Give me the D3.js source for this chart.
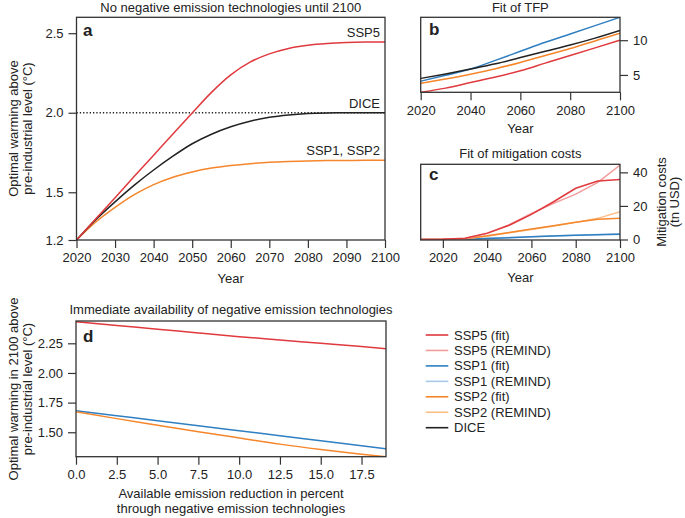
<!DOCTYPE html>
<html><head><meta charset="utf-8">
<script src="https://cdn.jsdelivr.net/npm/d3@7"></script>
<style>
body{margin:0;background:#fff;}
svg text{font-family:"Liberation Sans",Arial,sans-serif;fill:#222;}
</style></head>
<body><svg id="chart" width="685" height="518"></svg>
<script>
// ---------- DATA ----------
// Panel a: optimal warming trajectories
const yearsA = [2020,2025,2030,2035,2040,2045,2050,2055,2060,2065,2070,2075,2080,2085,2090,2095,2100];
const warmSSP5 = [1.2,1.333,1.466,1.6,1.733,1.866,1.998,2.128,2.238,2.318,2.37,2.404,2.424,2.435,2.441,2.444,2.445];
const warmDICE = [1.2,1.328,1.44,1.545,1.64,1.727,1.805,1.865,1.912,1.947,1.971,1.986,1.995,1.999,2.0,2.0,2.0];
const warmSSP12 = [1.2,1.313,1.405,1.485,1.548,1.595,1.628,1.652,1.668,1.68,1.689,1.694,1.697,1.699,1.7,1.701,1.701];
const ticksA_y = [1.2,1.5,2.0,2.5];
const ticksA_x = [2020,2030,2040,2050,2060,2070,2080,2090,2100];

// Panel b: TFP fit
const yearsB = [2020,2030,2040,2050,2060,2070,2080,2090,2100];
const tfpSSP1 = [4.1,4.95,5.85,7.1,8.4,9.7,10.9,12.1,13.3];
const tfpDICE = [4.5,5.15,5.85,6.6,7.5,8.4,9.3,10.3,11.4];
const tfpSSP2 = [3.8,4.4,5.1,5.9,6.8,7.8,8.8,9.9,11.0];
const tfpSSP5 = [2.5,3.1,3.9,4.7,5.6,6.7,7.8,8.9,10.0];
const ticksB_x = [2020,2040,2060,2080,2100];
const ticksB_y = [5,10];

// Panel c: mitigation costs (tn USD)
const yearsC = [2010,2020,2030,2040,2050,2060,2070,2080,2090,2100];
const costSSP5fit = [0,0.2,0.8,3.8,8.5,15.0,22.5,30.5,34.8,35.8];
const costSSP5rem = [0,0.2,0.6,3.5,8.8,15.5,21.5,27.0,34.0,44.4];
const costSSP1fit = [0,0.05,0.2,0.6,1.1,1.6,2.1,2.5,2.8,3.1];
const costSSP1rem = [0,0.05,0.2,0.7,1.2,1.7,2.2,2.6,3.0,3.4];
const costSSP2fit = [0,0.1,0.5,2.2,4.2,6.2,8.2,10.3,12.0,12.6];
const costSSP2rem = [0,0.1,0.4,2.0,4.0,6.0,8.0,10.2,12.6,16.5];
const ticksC_x = [2020,2040,2060,2080,2100];
const ticksC_y = [0,20,40];

// Panel d: warming in 2100 vs available negative emissions
const netPct = [0,2.5,5,7.5,10,12.5,15,17.5,19];
const negSSP5 = [2.432,2.400,2.369,2.337,2.306,2.278,2.250,2.222,2.204];
const negSSP1 = [1.682,1.640,1.598,1.555,1.513,1.471,1.429,1.387,1.361];
const negSSP2 = [1.672,1.615,1.560,1.505,1.452,1.400,1.355,1.315,1.294];
const ticksD_x = [0,2.5,5,7.5,10,12.5,15,17.5];
const ticksD_y = [1.5,1.75,2.0,2.25];

// Legend
const legendLabels = ["SSP5 (fit)","SSP5 (REMIND)","SSP1 (fit)","SSP1 (REMIND)","SSP2 (fit)","SSP2 (REMIND)","DICE"];
const legendColors = ["#e0393e","#f29c9c","#2f7fc1","#a9c9e8","#f5862b","#fbbe88","#222222"];

// ---------- DRAWING ----------
const svg = d3.select("#chart");
const C = {ssp5:"#e0393e", ssp5l:"#f29c9c", ssp1:"#2f7fc1", ssp1l:"#a9c9e8", ssp2:"#f5862b", ssp2l:"#fbbe88", dice:"#222222"};
const FS = 13;
const axisColor = "#333";

function styleAxis(g){
  g.select(".domain").remove();
  g.selectAll(".tick line").attr("stroke",axisColor).attr("stroke-width",1.2);
  g.selectAll(".tick text").attr("font-size",FS).attr("fill","#222");
}
function box(x0,x1,y0,y1){
  svg.append("rect").attr("x",x0).attr("y",y1).attr("width",x1-x0).attr("height",y0-y1)
    .attr("fill","none").attr("stroke",axisColor).attr("stroke-width",1.3);
}
function clip(id,x0,x1,y0,y1){
  svg.append("clipPath").attr("id",id).append("rect").attr("x",x0).attr("y",y1).attr("width",x1-x0).attr("height",y0-y1);
}
function drawLine(xs,ys,x,y,color,clipId,curve,w){
  svg.append("path").datum(xs.map((d,i)=>[d,ys[i]]))
    .attr("fill","none").attr("stroke",color).attr("stroke-width",w||1.5)
    .attr("clip-path","url(#"+clipId+")")
    .attr("d",d3.line().x(d=>x(d[0])).y(d=>y(d[1])).curve(curve||d3.curveLinear));
}
function text(t,x,y,opt){
  opt=opt||{};
  const el=svg.append("text").attr("x",x).attr("y",y).attr("font-size",opt.fs||FS)
    .attr("text-anchor",opt.anchor||"middle").text(t);
  if(opt.bold) el.attr("font-weight","bold");
  if(opt.rot) el.attr("transform","rotate(-90,"+x+","+y+")");
  return el;
}

// Panel a
{
  const x0=76.5,x1=385,y0=240,y1=17.3;
  const x=d3.scaleLinear().domain([2020,2100]).range([x0,x1]);
  const y=d3.scaleLinear().domain([1.2,2.6]).range([y0,y1]);
  clip("ca",x0,x1,y0,y1);
  svg.append("line").attr("x1",x0).attr("x2",x1).attr("y1",y(2.0)).attr("y2",y(2.0))
    .attr("stroke","#222").attr("stroke-width",1.3).attr("stroke-dasharray","1.3,2");
  drawLine(yearsA,warmSSP12,x,y,C.ssp2,"ca",d3.curveMonotoneX);
  drawLine(yearsA,warmDICE,x,y,C.dice,"ca",d3.curveMonotoneX);
  drawLine(yearsA,warmSSP5,x,y,C.ssp5,"ca",d3.curveMonotoneX);
  svg.append("g").attr("transform","translate(0,"+y0+")")
    .call(d3.axisBottom(x).tickValues(ticksA_x).tickFormat(d3.format("d")).tickSize(8).tickPadding(5)).call(styleAxis);
  svg.append("g").attr("transform","translate("+x0+",0)")
    .call(d3.axisLeft(y).tickValues(ticksA_y).tickFormat(d3.format(".1f")).tickSize(8).tickPadding(5)).call(styleAxis);
  box(x0,x1,y0,y1);
  text("No negative emission technologies until 2100",(x0+x1)/2,12);
  text("a",83,36,{anchor:"start",bold:true,fs:17});
  text("SSP5",380,37,{anchor:"end"});
  text("DICE",380,108,{anchor:"end"});
  text("SSP1, SSP2",380,155,{anchor:"end"});
  text("Year",(x0+x1)/2,283);
  text("Optimal warming above",17.5,128.5,{rot:true});
  text("pre-industrial level (°C)",31.5,128.5,{rot:true});
}

// Panel b
{
  const x0=420.7,x1=620,y0=92.3,y1=17.3;
  const x=d3.scaleLinear().domain([2020,2100]).range([x0,x1]);
  const y=d3.scaleLinear().domain([2.5,13.3]).range([y0,y1]);
  clip("cb",x0,x1,y0,y1);
  drawLine(yearsB,tfpSSP5,x,y,C.ssp5,"cb",d3.curveMonotoneX);
  drawLine(yearsB,tfpSSP2,x,y,C.ssp2,"cb",d3.curveMonotoneX);
  drawLine(yearsB,tfpSSP1,x,y,C.ssp1,"cb",d3.curveMonotoneX);
  drawLine(yearsB,tfpDICE,x,y,C.dice,"cb",d3.curveMonotoneX);
  svg.append("g").attr("transform","translate(0,"+y0+")")
    .call(d3.axisBottom(x).tickValues(ticksB_x).tickFormat(d3.format("d")).tickSize(8).tickPadding(5)).call(styleAxis);
  svg.append("g").attr("transform","translate("+x1+",0)")
    .call(d3.axisRight(y).tickValues(ticksB_y).tickFormat(d3.format("d")).tickSize(8).tickPadding(5)).call(styleAxis);
  box(x0,x1,y0,y1);
  text("Fit of TFP",(x0+x1)/2,12);
  text("b",429,35,{anchor:"start",bold:true,fs:17});
  text("Year",(x0+x1)/2,133);
}

// Panel c
{
  const x0=420.7,x1=620,y0=240,y1=164.3;
  const x=d3.scaleLinear().domain([2010,2100]).range([x0,x1]);
  const y=d3.scaleLinear().domain([-0.3,44.8]).range([y0,y1]);
  clip("cc",x0,x1,y0,y1);
  drawLine(yearsC,costSSP1rem,x,y,C.ssp1l,"cc");
  drawLine(yearsC,costSSP1fit,x,y,C.ssp1,"cc");
  drawLine(yearsC,costSSP2rem,x,y,C.ssp2l,"cc");
  drawLine(yearsC,costSSP2fit,x,y,C.ssp2,"cc");
  drawLine(yearsC,costSSP5rem,x,y,C.ssp5l,"cc");
  drawLine(yearsC,costSSP5fit,x,y,C.ssp5,"cc");
  svg.append("g").attr("transform","translate(0,"+y0+")")
    .call(d3.axisBottom(x).tickValues(ticksC_x).tickFormat(d3.format("d")).tickSize(8).tickPadding(5)).call(styleAxis);
  svg.append("g").attr("transform","translate("+x1+",0)")
    .call(d3.axisRight(y).tickValues(ticksC_y).tickFormat(d3.format("d")).tickSize(8).tickPadding(5)).call(styleAxis);
  box(x0,x1,y0,y1);
  text("Fit of mitigation costs",(x0+x1)/2,158);
  text("c",429,180,{anchor:"start",bold:true,fs:17});
  text("Year",(x0+x1)/2,282);
  text("Mitigation costs",666,202,{rot:true});
  text("(tn USD)",679,202,{rot:true});
}

// Panel d
{
  const x0=76,x1=386,y0=456.7,y1=321;
  const x=d3.scaleLinear().domain([0,19]).range([x0,x1]);
  const y=d3.scaleLinear().domain([1.294,2.438]).range([y0,y1]);
  clip("cd",x0,x1,y0,y1);
  drawLine(netPct,negSSP5,x,y,C.ssp5,"cd",d3.curveMonotoneX);
  drawLine(netPct,negSSP1,x,y,C.ssp1,"cd",d3.curveMonotoneX);
  drawLine(netPct,negSSP2,x,y,C.ssp2,"cd",d3.curveMonotoneX);
  svg.append("g").attr("transform","translate(0,"+y0+")")
    .call(d3.axisBottom(x).tickValues(ticksD_x).tickFormat(d3.format(".1f")).tickSize(8).tickPadding(5)).call(styleAxis);
  svg.append("g").attr("transform","translate("+x0+",0)")
    .call(d3.axisLeft(y).tickValues(ticksD_y).tickFormat(d3.format(".2f")).tickSize(8).tickPadding(5)).call(styleAxis);
  box(x0,x1,y0,y1);
  text("Immediate availability of negative emission technologies",(x0+x1)/2,314);
  text("d",83,342,{anchor:"start",bold:true,fs:17});
  text("Available emission reduction in percent",(x0+x1)/2,498);
  text("through negative emission technologies",(x0+x1)/2,513);
  text("Optimal warming in 2100 above",17.5,389,{rot:true});
  text("pre-industrial level (°C)",31.5,389,{rot:true});
}

// Legend
{
  const lx0=425.7,lx1=448.3,ty=335,dy=15.45;
  legendLabels.forEach((lab,i)=>{
    const yy=ty+i*dy;
    svg.append("line").attr("x1",lx0).attr("x2",lx1).attr("y1",yy).attr("y2",yy)
      .attr("stroke",legendColors[i]).attr("stroke-width",1.6);
    text(lab,454,yy+4.5,{anchor:"start"});
  });
}
</script></body></html>
